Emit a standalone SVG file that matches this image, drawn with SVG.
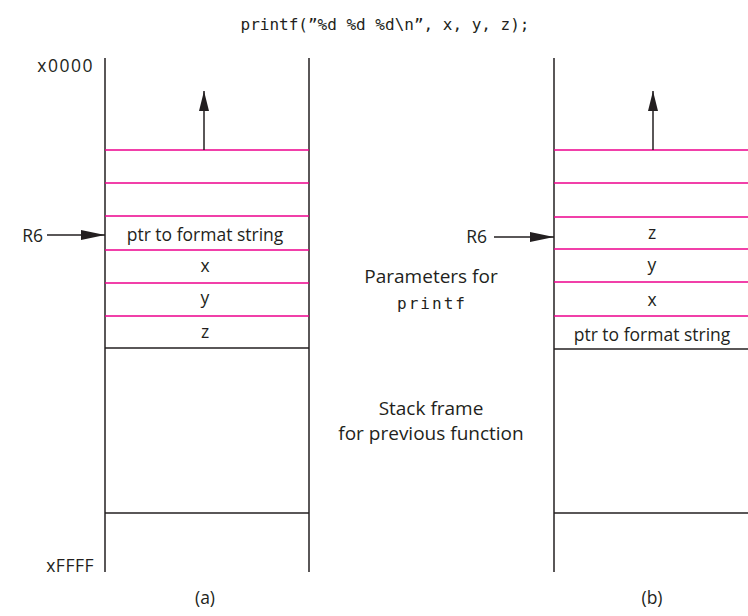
<svg xmlns="http://www.w3.org/2000/svg" width="748" height="616" viewBox="0 0 748 616">
<defs>
<style>
.wall{stroke:#231f20;stroke-width:1.5;fill:none}
.mag{stroke:#ec008c;stroke-width:1.5;fill:none}
.blk{stroke:#231f20;stroke-width:1.5;fill:none}
.lbl{font-family:"Open Sans","Liberation Sans",sans-serif;font-size:17.5px;fill:#231f20}
.note{font-family:"Open Sans","Liberation Sans",sans-serif;font-size:19px;fill:#231f20;text-anchor:middle}
.mid{text-anchor:middle}
.mono{font-family:"DejaVu Sans Mono","Liberation Mono",monospace;font-size:16px;fill:#231f20}
.arr{stroke:#231f20;stroke-width:1.5;fill:none}
</style>
<marker id="ahr" viewBox="0 0 24 10" refX="24" refY="5" markerWidth="24" markerHeight="10" markerUnits="userSpaceOnUse" orient="auto">
<path d="M0,0 L24,5 L0,10 z" fill="#231f20"/>
</marker>
<marker id="ahu" viewBox="0 0 20 10" refX="20" refY="5" markerWidth="20" markerHeight="10" markerUnits="userSpaceOnUse" orient="auto">
<path d="M0,0 L20,5 L0,10 z" fill="#231f20"/>
</marker>
</defs>
<text class="mono mid" x="385" y="30">printf(”%d %d %d\n”, x, y, z);</text>

<g id="stack-a">
<line class="wall" x1="105" y1="58" x2="105" y2="572"/>
<line class="wall" x1="309" y1="58" x2="309" y2="572"/>
<line class="mag" x1="105" y1="150" x2="309" y2="150"/>
<line class="mag" x1="105" y1="183" x2="309" y2="183"/>
<line class="mag" x1="105" y1="216" x2="309" y2="216"/>
<line class="mag" x1="105" y1="250" x2="309" y2="250"/>
<line class="mag" x1="105" y1="283" x2="309" y2="283"/>
<line class="mag" x1="105" y1="316" x2="309" y2="316"/>
<line class="blk" x1="105" y1="348" x2="309" y2="348"/>
<line class="blk" x1="105" y1="513" x2="309" y2="513"/>
<text class="lbl mid" x="205" y="241">ptr to format string</text>
<text class="lbl mid" x="205" y="272">x</text>
<text class="lbl mid" x="205" y="304">y</text>
<text class="lbl mid" x="205" y="338">z</text>
<text class="lbl" x="94" y="72" text-anchor="end" letter-spacing="1.5">x0000</text>
<text class="lbl" x="94" y="572" text-anchor="end" letter-spacing="0.5">xFFFF</text>
<text class="lbl mid" x="205" y="604">(a)</text>
</g>

<g id="stack-b">
<line class="wall" x1="554" y1="58" x2="554" y2="572"/>
<line class="mag" x1="554" y1="150" x2="748" y2="150"/>
<line class="mag" x1="554" y1="183" x2="748" y2="183"/>
<line class="mag" x1="554" y1="217" x2="748" y2="217"/>
<line class="mag" x1="554" y1="249" x2="748" y2="249"/>
<line class="mag" x1="554" y1="282" x2="748" y2="282"/>
<line class="mag" x1="554" y1="316" x2="748" y2="316"/>
<line class="blk" x1="554" y1="349" x2="748" y2="349"/>
<line class="blk" x1="554" y1="513" x2="748" y2="513"/>
<text class="lbl mid" x="652" y="239">z</text>
<text class="lbl mid" x="652" y="271">y</text>
<text class="lbl mid" x="652" y="306">x</text>
<text class="lbl mid" x="652" y="341">ptr to format string</text>
<text class="lbl mid" x="652" y="604">(b)</text>
</g>

<g id="notes">
<text class="note" x="431" y="283">Parameters for</text>
<text class="mono mid" x="432" y="309" font-size="17" letter-spacing="2">printf</text>
<text class="note" x="431" y="415">Stack frame</text>
<text class="note" x="431" y="440">for previous function</text>
</g>

<g id="r6-a">
<text class="lbl" x="43" y="242" text-anchor="end">R6</text>
</g>
<g id="r6-b">
<text class="lbl" x="487" y="243" text-anchor="end">R6</text>
</g>

<g id="connectors">
<line class="arr" x1="204" y1="150" x2="204" y2="91" marker-end="url(#ahu)"/>
<line class="arr" x1="653" y1="150" x2="653" y2="91" marker-end="url(#ahu)"/>
<line class="arr" x1="47" y1="235" x2="105" y2="235" marker-end="url(#ahr)"/>
<line class="arr" x1="494" y1="237" x2="554" y2="237" marker-end="url(#ahr)"/>
</g>
</svg>
